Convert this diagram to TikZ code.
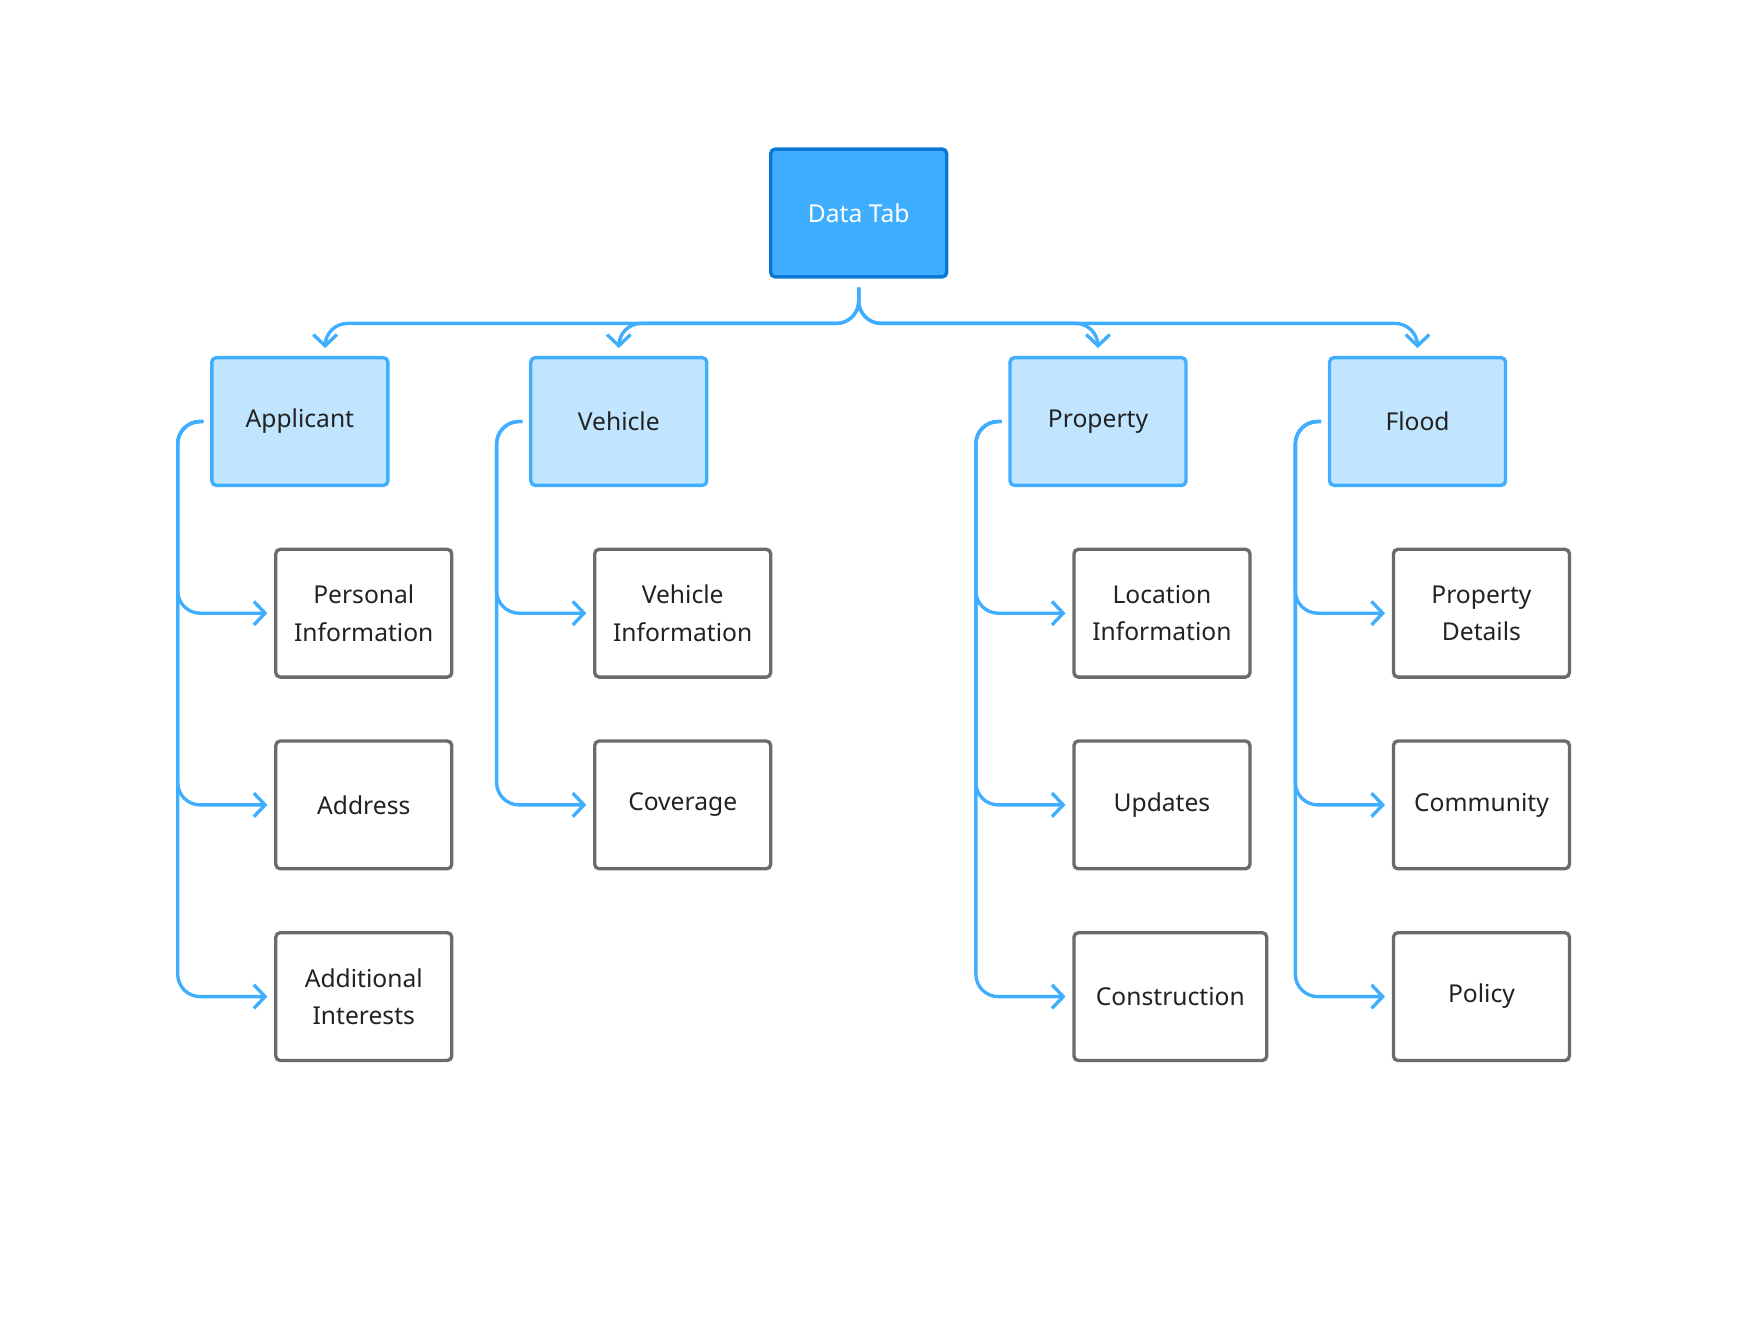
\documentclass[tikz,border=0pt]{standalone}
\usepackage{fontspec}
\setmainfont{Noto Sans}
\usetikzlibrary{arrows.meta,calc}
\definecolor{cblue}{HTML}{3FAEFF}
\definecolor{dblue}{HTML}{0A78D2}
\definecolor{lblue}{HTML}{C2E5FF}
\definecolor{bgray}{HTML}{6B6B6B}
\definecolor{tgray}{HTML}{222222}
\tikzset{
 box/.style={draw,line width=1.7pt,rounded corners=0.08cm,minimum width=3.14cm,minimum height=2.28cm,align=center,font=\fontsize{12.5}{19}\selectfont,text=tgray},
 topbox/.style={box,fill=cblue,draw=dblue,text=white},
 lone/.style={box,fill=lblue,draw=cblue},
 leaf/.style={box,fill=white,draw=bgray},
 conn/.style={draw=cblue,line width=1.7pt,rounded corners=0.4cm,-{Straight Barb[length=0.2cm,width=0.42cm,line width=1.7pt]}}
}
\begin{document}
\begin{tikzpicture}
\useasboundingbox (0,0) rectangle (31.4,-23.76);
\node[topbox] (dt) at (15.32,-3.8) {Data Tab};
\node[lone] (app) at (5.35,-7.52) {Applicant};
\node[lone] (veh) at (11.04,-7.52) {Vehicle};
\node[lone] (prop) at (19.59,-7.52) {Property};
\node[lone] (fl) at (25.29,-7.52) {Flood};
\node[leaf] (pi) at (6.49,-10.94) {Personal\\Information};
\node[leaf] (ad) at (6.49,-14.36) {Address};
\node[leaf] (ai) at (6.49,-17.78) {Additional\\Interests};
\node[leaf] (vi) at (12.18,-10.94) {Vehicle\\Information};
\node[leaf] (cov) at (12.18,-14.36) {Coverage};
\node[leaf] (li) at (20.73,-10.94) {Location\\Information};
\node[leaf] (up) at (20.73,-14.36) {Updates};
\node[leaf,minimum width=3.44cm] (con) at (20.88,-17.78) {Construction};
\node[leaf] (pd) at (26.43,-10.94) {Property\\Details};
\node[leaf] (com) at (26.43,-14.36) {Community};
\node[leaf] (pol) at (26.43,-17.78) {Policy};
\foreach \t/\dx in {app/0.45,veh/0,prop/0,fl/0}{
  \draw[conn] ($(dt.south)+(0,-0.16)$) |- ($(\t.north)+(\dx,0.58)$) -- ($(\t.north)+(\dx,0.14)$);
}
\foreach \p/\c in {app/pi,app/ad,app/ai,veh/vi,veh/cov,prop/li,prop/up,fl/pd,fl/com,fl/pol}{
  \draw[conn] ($(\p.west)+(-0.12,0)$) -| ($(\c.west)+(-1.72,0)$) -- ($(\c.west)+(-0.12,0)$);
}
\draw[conn] ($(prop.west)+(-0.12,0)$) -| ($(li.west)+(-1.72,-6.84)$) -- ($(li.west)+(-0.12,-6.84)$);
\end{tikzpicture}
\end{document}
